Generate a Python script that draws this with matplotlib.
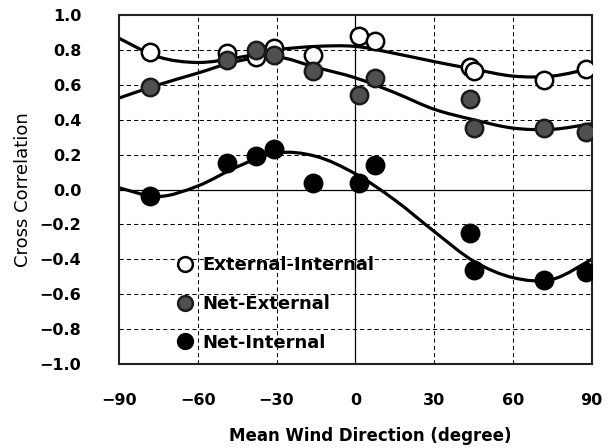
import numpy as np
import matplotlib
matplotlib.use("Agg")
import matplotlib.pyplot as plt
from matplotlib.path import Path
from matplotlib.patches import PathPatch

plt.rcParams['font.family'] = ['DejaVu Sans']

# observed points
wind_dir = [-78, -49, -38, -31, -16, 1.5, 7.5, 43.5, 45, 72, 88]
ext_int = [0.79, 0.78, 0.76, 0.81, 0.77, 0.88, 0.85, 0.70, 0.68, 0.63, 0.69]
net_ext = [0.59, 0.74, 0.80, 0.77, 0.68, 0.54, 0.64, 0.52, 0.35, 0.35, 0.33]
net_int = [-0.04, 0.15, 0.19, 0.23, 0.04, 0.04, 0.14, -0.25, -0.46, -0.52, -0.47]

# trend curves
trend_dir = [-90, -75, -60, -45, -30, -15, 0, 15, 30, 45, 60, 75, 90]
ext_int_trend = [0.867, 0.76, 0.728, 0.755, 0.80, 0.82, 0.82, 0.78, 0.733, 0.69, 0.65, 0.65, 0.695]
net_ext_trend = [0.524, 0.60, 0.667, 0.735, 0.76, 0.70, 0.64, 0.555, 0.46, 0.40, 0.352, 0.345, 0.377]
net_int_trend = [0.01, -0.04, 0.02, 0.13, 0.21, 0.19, 0.09, -0.06, -0.24, -0.41, -0.505, -0.515, -0.40]

xticks = [-90, -60, -30, 0, 30, 60, 90]
yticks = [-1.0, -0.8, -0.6, -0.4, -0.2, 0.0, 0.2, 0.4, 0.6, 0.8, 1.0]
labels = ['External-Internal', 'Net-External', 'Net-Internal']


def smooth_path(xv, yv):
    p = np.column_stack([xv, yv]).astype(float)
    ext = np.vstack([p[0], p, p[-1]])
    verts = [tuple(p[0])]
    codes = [Path.MOVETO]
    for i in range(len(p) - 1):
        p0, p1, p2, p3 = ext[i], ext[i + 1], ext[i + 2], ext[i + 3]
        c1 = p1 + (p2 - p0) / 6.0
        c2 = p2 - (p3 - p1) / 6.0
        verts += [tuple(c1), tuple(c2), tuple(p2)]
        codes += [Path.CURVE4] * 3
    return Path(verts, codes)


fig = plt.figure(figsize=(6.10, 4.48), dpi=100)
ax = fig.add_axes([0.195, 0.1875, 0.775, 0.779])

styles = [dict(mfc='white', mec='black'), dict(mfc='#505050', mec='#1a1a1a'), dict(mfc='black', mec='black')]
handles = []
for ys, tr, st, lab in zip([ext_int, net_ext, net_int], [ext_int_trend, net_ext_trend, net_int_trend], styles, labels):
    ax.add_patch(PathPatch(smooth_path(trend_dir, tr), fill=False, edgecolor='black', lw=2.3, zorder=2))
    h, = ax.plot(wind_dir, ys, 'o', ms=12.5, mew=1.8, zorder=3, label=lab, **st)
    handles.append(h)

ax.set_xlim(-90, 90)
ax.set_ylim(-1.0, 1.0)
ax.set_xticks(xticks)
ax.set_yticks(yticks)
ax.set_xticklabels([f'{t:d}'.replace('-', '\u2212') for t in xticks])
ax.set_yticklabels([f'{t:.1f}'.replace('-', '\u2212') for t in yticks])
for t in xticks[1:-1]:
    ax.axvline(t, color='black', lw=0.9 if t == 0 else 0.75, ls='-' if t == 0 else (0, (4, 3)), zorder=1)
for t in yticks[1:-1]:
    ax.axhline(t, color='black', lw=0.9 if t == 0 else 0.75, ls='-' if t == 0 else (0, (4, 3)), zorder=1)
ax.tick_params(axis='x', length=0, pad=21, labelsize=11.5)
ax.tick_params(axis='y', length=0, pad=27, labelsize=11.5)
for lbl in ax.get_xticklabels() + ax.get_yticklabels():
    lbl.set_fontweight('bold')
for s in ax.spines.values():
    s.set_linewidth(1.5)
    s.set_color('#222222')
ax.set_xlabel('Mean Wind Direction (degree)', fontsize=12, fontweight='bold')
ax.set_ylabel('Cross Correlation', fontsize=13)
ax.xaxis.set_label_coords(0.531, -0.18)
ax.yaxis.set_label_coords(-0.184, 0.5)

leg = ax.legend(handles=handles, loc='upper left', bbox_to_anchor=(0.12, 0.309), frameon=False,
                prop={'weight': 'bold', 'size': 13}, markerscale=0.85, borderpad=0, borderaxespad=0,
                handletextpad=0.5, labelspacing=1.15, handlelength=1.0)

fig.savefig('out.png', dpi=100)
